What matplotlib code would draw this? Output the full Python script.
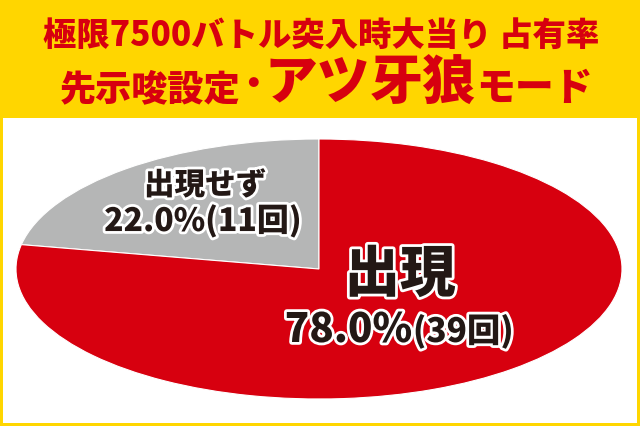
import matplotlib.pyplot as plt
import matplotlib.patheffects as pe
from matplotlib.patches import Rectangle

plt.rcParams['font.family'] = ['Noto Sans CJK JP', 'DejaVu Sans']

labels = ['出現せず', '出現']
values = [22.0, 78.0]
counts = [11, 39]
colors = ['#B5B6B6', '#D7000F']

title1 = '極限7500バトル突入時大当り 占有率'
title2 = ['先示唆設定', '･', 'アツ牙狼', 'モード']

W, H = 640, 427
fig = plt.figure(figsize=(W / 100, H / 100), dpi=100)
fig.patch.set_facecolor('#FFD600')
fig.patches.append(Rectangle((3 / W, 3 / H), 634 / W, (424 - 119) / H,
                             transform=fig.transFigure, facecolor='white',
                             edgecolor='none', zorder=-5))

red = '#D7000F'
fig.text(321 / W, 1 - 35 / H, title1, color=red, fontsize=24, fontweight='black',
         ha='center', va='center')
yb = 1 - 100 / H
fig.text(240 / W, yb, title2[0], color=red, fontsize=26, fontweight='black',
         ha='right', va='baseline')
fig.text(253 / W, yb, title2[1], color=red, fontsize=34, fontweight='black',
         ha='center', va='baseline')
fig.text(370 / W, yb, title2[2], color=red, fontsize=38, fontweight='black',
         ha='center', va='baseline')
fig.text(476 / W, yb, title2[3], color=red, fontsize=28, fontweight='black',
         ha='left', va='baseline')

# elliptical pie: the axes box is the ellipse's bounding box
ax = fig.add_axes([16 / W, (H - 400) / H, 606 / W, 260 / H], zorder=1)
ax.pie(values, colors=colors, startangle=90, counterclock=True,
       wedgeprops=dict(linewidth=0.8, edgecolor='white'))
ax.set_aspect('auto')
ax.set_xlim(-1, 1)
ax.set_ylim(-1, 1)
ax.axis('off')

stroke = [pe.withStroke(linewidth=4, foreground='white')]
ink = '#231815'
fig.text(205 / W, 1 - 186 / H, labels[0], color=ink, fontsize=22, fontweight='black',
         ha='center', va='center', path_effects=stroke, zorder=5)
fig.text(203 / W, 1 - 222 / H, f'{values[0]:.1f}%({counts[0]}回)', color=ink,
         fontsize=23, fontweight='black', ha='center', va='center', path_effects=stroke,
         zorder=5)

fig.text(400 / W, 1 - 276 / H, labels[1], color=ink, fontsize=40, fontweight='black',
         ha='center', va='center', path_effects=stroke, zorder=5)
yb2 = 1 - 343 / H
fig.text(412 / W, yb2, f'{values[1]:.1f}%', color=ink, fontsize=29, fontweight='black',
         ha='right', va='baseline', path_effects=stroke, zorder=5)
fig.text(413 / W, yb2, f'({counts[1]}回)', color=ink, fontsize=24, fontweight='black',
         ha='left', va='baseline', path_effects=stroke, zorder=5)

fig.savefig('out.png', dpi=100, facecolor=fig.get_facecolor())
